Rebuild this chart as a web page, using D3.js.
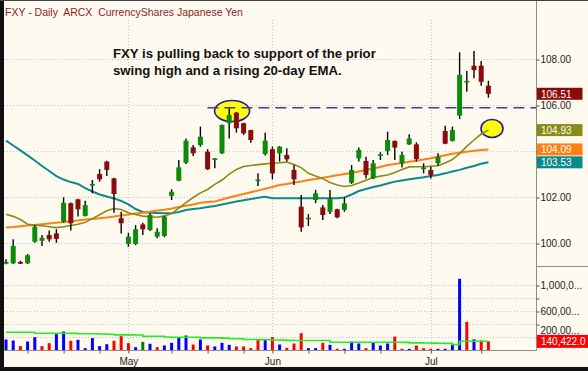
<!DOCTYPE html>
<html><head><meta charset="utf-8">
<script src="https://cdn.jsdelivr.net/npm/d3@7/dist/d3.min.js"></script>
<style>
html,body{margin:0;padding:0;background:#fff;}
svg{display:block;}
text{font-family:"Liberation Sans",Arial,sans-serif;}
</style></head><body>
<svg id="c" width="588" height="371"></svg>
<script>
// ---------- DATA ----------
const title = "FXY - Daily  ARCX  CurrencyShares Japanese Yen";
const noteLines = ["FXY is pulling back to support of the prior", "swing high and a rising 20-day EMA."];

const dates = [
 "2010-04-08","2010-04-09","2010-04-12","2010-04-13","2010-04-14","2010-04-15","2010-04-16","2010-04-19","2010-04-20","2010-04-21",
 "2010-04-22","2010-04-23","2010-04-26","2010-04-27","2010-04-28","2010-04-29","2010-04-30","2010-05-03","2010-05-04","2010-05-05",
 "2010-05-06","2010-05-07","2010-05-10","2010-05-11","2010-05-12","2010-05-13","2010-05-14","2010-05-17","2010-05-18","2010-05-19",
 "2010-05-20","2010-05-21","2010-05-24","2010-05-25","2010-05-26","2010-05-27","2010-05-28","2010-06-01","2010-06-02","2010-06-03",
 "2010-06-04","2010-06-07","2010-06-08","2010-06-09","2010-06-10","2010-06-11","2010-06-14","2010-06-15","2010-06-16","2010-06-17",
 "2010-06-18","2010-06-21","2010-06-22","2010-06-23","2010-06-24","2010-06-25","2010-06-28","2010-06-29","2010-06-30","2010-07-01",
 "2010-07-02","2010-07-06","2010-07-07","2010-07-08","2010-07-09","2010-07-12","2010-07-13","2010-07-14"];

const open = [99.12,99.14,99.20,99.14,100.08,100.12,100.37,100.44,100.95,101.75,
 101.92,101.20,102.53,103.02,103.56,102.83,101.10,99.98,99.98,100.83,
 100.59,100.30,100.33,102.07,102.73,103.51,104.18,104.28,103.99,103.63,
 103.92,105.23,105.69,105.23,104.93,102.74,103.89,104.10,103.92,103.85,
 103.20,101.60,101.06,101.89,101.57,101.38,101.49,101.46,102.64,103.70,
 103.59,102.83,103.82,104.02,104.46,103.49,104.31,104.31,103.24,103.20,
 103.49,104.89,104.46,105.56,107.01,107.73,107.73,106.86];
const high = [99.32,100.18,99.25,99.54,100.80,100.37,100.56,100.62,102.01,101.78,
 101.95,101.86,102.76,103.23,103.60,102.86,101.38,100.47,100.80,100.90,
 101.31,100.66,101.20,102.36,103.63,104.57,104.28,105.08,104.10,103.72,
 105.17,105.88,105.72,105.25,104.95,103.05,104.82,104.21,104.24,104.14,
 103.41,102.11,101.28,102.33,101.67,102.33,101.51,102.01,103.41,104.17,
 103.77,103.63,103.97,104.86,104.48,103.99,104.75,104.40,103.49,103.34,
 103.92,105.12,105.08,108.31,107.50,108.37,107.93,107.07];
const low = [99.10,99.11,99.11,99.11,100.03,99.89,100.08,100.03,100.90,100.56,
 101.17,101.17,102.18,102.69,102.93,101.34,100.44,99.86,99.93,100.37,
 100.54,100.23,100.27,101.89,102.71,103.46,103.80,104.21,103.20,103.27,
 103.89,104.57,104.82,104.72,104.38,102.50,103.83,102.79,103.56,103.56,
 102.54,100.51,100.76,101.75,101.02,101.28,101.10,101.38,102.59,103.56,
 102.83,102.80,103.63,103.85,103.63,103.30,104.28,103.56,103.05,102.83,
 103.38,104.31,104.43,105.41,106.60,107.18,106.86,106.34];
const close = [99.20,99.89,99.12,99.49,100.73,100.25,100.18,100.20,101.77,100.88,
 101.49,101.67,102.59,102.79,103.20,102.15,100.88,100.30,100.62,100.62,
 101.24,100.51,101.17,102.25,103.31,104.47,103.92,104.64,103.23,103.70,
 105.15,105.59,105.01,104.79,104.50,102.78,104.47,103.05,104.21,103.66,
 102.79,100.70,101.12,102.18,101.24,101.97,101.14,101.75,103.20,104.07,
 102.98,103.49,103.88,104.50,104.17,103.85,104.57,103.67,103.30,102.98,
 103.77,104.34,104.93,107.33,107.07,107.54,107.03,106.51];

// moving averages
const ema20 = [101.27,101.18,101.04,100.84,100.80,100.77,100.73,100.69,100.73,100.78,
 100.84,100.92,101.08,101.25,101.42,101.52,101.48,101.34,101.26,101.19,
 101.16,101.14,101.20,101.30,101.54,101.78,102.00,102.20,102.35,102.57,
 102.76,103.02,103.22,103.35,103.39,103.43,103.46,103.49,103.51,103.54,
 103.43,103.30,103.05,102.93,102.82,102.65,102.54,102.48,102.52,102.63,
 102.75,102.87,102.93,102.98,103.09,103.22,103.33,103.34,103.34,103.36,
 103.38,103.50,103.65,103.91,104.22,104.50,104.76,104.93];
const ema50 = [100.70,100.72,100.75,100.78,100.80,100.84,100.87,100.90,100.93,100.97,
 101.00,101.04,101.07,101.10,101.13,101.17,101.22,101.26,101.30,101.34,
 101.38,101.43,101.47,101.52,101.59,101.64,101.70,101.77,101.80,101.83,
 101.91,102.00,102.08,102.15,102.23,102.30,102.38,102.46,102.54,102.59,
 102.65,102.70,102.76,102.80,102.86,102.91,102.97,103.02,103.07,103.13,
 103.20,103.26,103.33,103.41,103.46,103.50,103.55,103.60,103.65,103.71,
 103.77,103.84,103.90,103.95,103.99,104.03,104.07,104.09];
const sma50 = [104.47,104.26,104.05,103.83,103.61,103.37,103.15,102.93,102.78,102.67,
 102.59,102.41,102.26,102.13,102.04,101.96,101.85,101.70,101.50,101.37,
 101.34,101.33,101.31,101.31,101.37,101.46,101.50,101.53,101.59,101.63,
 101.70,101.76,101.83,101.88,101.93,101.99,102.03,101.97,101.97,101.97,
 101.97,101.97,101.97,101.97,101.97,101.97,101.97,102.00,102.13,102.28,
 102.37,102.46,102.52,102.61,102.69,102.74,102.79,102.84,102.88,102.93,
 102.98,103.05,103.13,103.20,103.29,103.37,103.47,103.53];

const volume = [169000,154000,67000,138000,205000,67000,113000,251000,292000,149000,
 164000,36000,190000,67000,97000,149000,221000,113000,51000,133000,
 103000,51000,77000,118000,205000,231000,92000,169000,77000,62000,
 118000,87000,62000,62000,36000,169000,164000,205000,92000,41000,
 108000,266000,36000,36000,118000,87000,26000,26000,138000,108000,
 36000,118000,77000,108000,215000,26000,26000,77000,36000,26000,
 26000,26000,90000,1103000,440000,172000,155000,140422];
const volumeAvg = [281000,281000,281000,281000,266000,266000,266000,266000,266000,264000,
 257000,257000,257000,255000,250000,241000,241000,241000,238000,220000,
 220000,220000,208000,205000,205000,205000,203000,195000,195000,195000,
 190000,180000,180000,169000,169000,167000,165000,162000,160000,156000,
 154000,154000,154000,154000,154000,128000,128000,128000,128000,128000,
 128000,128000,128000,128000,128000,125000,118000,118000,116000,114000,
 112000,110000,92000,143000,143000,143000,143000,143000];

const priceTicks = [100,102,104,106,108];
const priceTickLabels = {100:"100.00", 102:"102.00", 106:"106.00", 108:"108.00"}; // 104.00 sits under the value boxes
const volumeTicks = [200000,400000,600000,800000,1000000];
const volumeTickLabels = {1000000:"1,000,0...", 600000:"600,00...", 200000:"200,00..."};
const weekTickDates = ["2010-04-13","2010-04-20","2010-04-27","2010-05-11","2010-05-18","2010-05-25","2010-06-08","2010-06-15","2010-06-22","2010-07-13"];
const monthTickDates = ["2010-05-03","2010-06-01","2010-07-01"];
const monthLabels = ["May","Jun","Jul"];
const supportLevel = 105.9;
const supportStartDate = "2010-05-17";
const highlights = [{date:"2010-05-21", offset:0.4, price:105.76, rx:17.5, ry:10.5},
                    {date:"2010-07-14", offset:0.5, price:105.0, rx:11, ry:9}];

// ---------- CHART ----------
const W = 588, H = 371;
const L = 4, R = 536.5, priceBottom = 266, volBottom = 350.5;
const svg = d3.select("#c");
const idx = d => dates.indexOf(d);

const x = d3.scaleLinear().domain([0, dates.length - 1]).range([6, 488.4]);
const y = d3.scaleLinear().domain([100, 108]).range([243.5, 59.5]);
const yv = d3.scaleLinear().domain([0, 1000000]).range([volBottom, 285.5]);

svg.append("rect").attr("width", W).attr("height", H).attr("fill", "#fffaf0");

const defs = svg.append("defs");
defs.append("clipPath").attr("id", "pclip").append("rect")
  .attr("x", L).attr("y", 0).attr("width", R - L).attr("height", priceBottom);

// grid
const grid = svg.append("g").attr("stroke", "#c4c4c4").attr("stroke-width", 1).attr("stroke-dasharray", "1,2");
grid.selectAll(".hp").data(priceTicks).join("line")
  .attr("x1", L).attr("x2", R).attr("y1", d => y(d)).attr("y2", d => y(d));
grid.selectAll(".hv").data(volumeTicks).join("line")
  .attr("x1", L).attr("x2", R).attr("y1", d => yv(d)).attr("y2", d => yv(d));
grid.selectAll(".vm").data(monthTickDates).join("line")
  .attr("x1", d => Math.round(x(idx(d))) + 0.5).attr("x2", d => Math.round(x(idx(d))) + 0.5)
  .attr("y1", 20).attr("y2", volBottom);

const pg = svg.append("g").attr("clip-path", "url(#pclip)");

// highlight ellipse 1
const h0 = highlights[0];
pg.append("ellipse").attr("cx", x(idx(h0.date) + h0.offset)).attr("cy", y(h0.price))
  .attr("rx", h0.rx).attr("ry", h0.ry).attr("fill", "#ffff00").attr("stroke", "#1c1c9c").attr("stroke-width", 1.6);

// support line
pg.append("line").attr("x1", x(idx(supportStartDate)) + 7).attr("x2", R)
  .attr("y1", y(supportLevel)).attr("y2", y(supportLevel))
  .attr("stroke", "#3a3aa8").attr("stroke-width", 1.4).attr("stroke-dasharray", "11,6");

const h1 = highlights[1];
pg.append("ellipse").attr("cx", x(idx(h1.date) + h1.offset)).attr("cy", y(h1.price))
  .attr("rx", h1.rx).attr("ry", h1.ry).attr("fill", "#ffff00").attr("stroke", "#1c1c9c").attr("stroke-width", 1.6);

// moving averages
const line = d3.line().x((d, i) => x(i)).y(d => y(d));
pg.append("path").datum(sma50).attr("d", line).attr("fill", "none").attr("stroke", "#0a8a8a").attr("stroke-width", 2);
pg.append("path").datum(ema50).attr("d", line).attr("fill", "none").attr("stroke", "#ff7f10").attr("stroke-width", 2);
pg.append("path").datum(ema20).attr("d", line).attr("fill", "none").attr("stroke", "#8a8a14").attr("stroke-width", 1.6);

// candles
const candles = pg.append("g").selectAll("g").data(dates).join("g");
candles.append("line")
  .attr("x1", (d, i) => x(i)).attr("x2", (d, i) => x(i))
  .attr("y1", (d, i) => y(high[i])).attr("y2", (d, i) => y(low[i]))
  .attr("stroke", "#000").attr("stroke-width", 1.4);
candles.append("rect")
  .attr("x", (d, i) => x(i) - 2.5).attr("width", 5)
  .attr("y", (d, i) => y(Math.max(open[i], close[i])))
  .attr("height", (d, i) => Math.max(1.6, Math.abs(y(open[i]) - y(close[i]))))
  .attr("fill", (d, i) => close[i] >= open[i] ? "#0a8c0a" : "#8b0a0a");

// volume
const volColor = i => i === 0 ? "#0000ff" : (close[i] > close[i - 1] ? "#0000ff" : close[i] < close[i - 1] ? "#ff0000" : "#008000");
svg.append("g").selectAll("rect").data(volume).join("rect")
  .attr("x", (d, i) => x(i) - 1.5).attr("width", 3)
  .attr("y", d => yv(d)).attr("height", d => volBottom - yv(d))
  .attr("fill", (d, i) => volColor(i));
svg.append("path").datum(volumeAvg)
  .attr("d", d3.line().x((d, i) => x(i)).y(d => yv(d)).curve(d3.curveStepAfter))
  .attr("fill", "none").attr("stroke", "#22ee22").attr("stroke-width", 1.6);

// separators
svg.append("line").attr("x1", R).attr("x2", R).attr("y1", 0).attr("y2", volBottom).attr("stroke", "#8c8c8c");
svg.append("line").attr("x1", R).attr("x2", W).attr("y1", priceBottom + 0.5).attr("y2", priceBottom + 0.5).attr("stroke", "#8c8c8c");
svg.append("line").attr("x1", L).attr("x2", R).attr("y1", volBottom).attr("y2", volBottom).attr("stroke", "#8c8c8c");

// axes
function styleAxis(g) {
  g.select(".domain").remove();
  g.selectAll(".tick line").attr("stroke", "#555");
  g.selectAll(".tick text").attr("fill", "#222").attr("font-size", 10)
    .attr("font-family", '"Liberation Sans",Arial,sans-serif');
}
svg.append("g").attr("transform", `translate(${R},0)`)
  .call(d3.axisRight(y).tickValues(priceTicks).tickSize(3).tickPadding(1).tickFormat(d => priceTickLabels[d] || ""))
  .call(styleAxis);
const vAxis = svg.append("g").attr("transform", `translate(${R},0)`)
  .call(d3.axisRight(yv).tickValues(volumeTicks).tickSize(3).tickPadding(1).tickFormat(d => volumeTickLabels[d] || ""))
  .call(styleAxis);
// lowest volume label sits just above the last-volume box
vAxis.selectAll(".tick text").filter(d => d === volumeTicks[0]).attr("dy", "-0.4em");
const monthIdx = monthTickDates.map(idx);
svg.append("g").attr("transform", `translate(0,${volBottom})`)
  .call(d3.axisBottom(x).tickValues(weekTickDates.map(idx).concat(monthIdx)).tickSize(3).tickPadding(4)
    .tickFormat(i => { const k = monthIdx.indexOf(i); return k >= 0 ? monthLabels[k] : ""; }))
  .call(styleAxis);

// last-value labels
const last = dates.length - 1;
const valueLabels = [
  {v: close[last], color: "#8b0a0a"},
  {v: ema20[last], color: "#8a8a14"},
  {v: ema50[last], color: "#ff7f10"},
  {v: sma50[last], color: "#0a8a8a"}
];
const vl = svg.append("g").selectAll("g").data(valueLabels).join("g")
  .attr("transform", d => `translate(${R + 0.5},${y(d.v) - 6})`);
vl.append("rect").attr("width", 45.5).attr("height", 12).attr("fill", d => d.color);
vl.append("text").attr("x", 4).attr("y", 10).attr("fill", "#fff").attr("font-size", 10).text(d => d.v.toFixed(2));

const vtop = Math.min(yv(volume[last]) - 6.5, volBottom - 13);
const vg = svg.append("g").attr("transform", `translate(${R + 0.5},${vtop})`);
vg.append("rect").attr("width", W - R).attr("height", 13).attr("fill", "#ff0000");
vg.append("text").attr("x", 4).attr("y", 10.5).attr("fill", "#fff").attr("font-size", 10)
  .text(d3.format(",.1f")(volume[last]));

// title & note
svg.append("text").attr("x", 5).attr("y", 16).attr("font-size", 10.5).attr("fill", "#8b1c1c")
  .attr("xml:space", "preserve").style("white-space", "pre").text(title);
svg.append("g").selectAll("text").data(noteLines).join("text")
  .attr("x", 113).attr("y", (d, i) => 58 + i * 17)
  .attr("font-size", 13.2).attr("font-weight", "bold").attr("fill", "#111").text(d => d);

// borders
svg.append("rect").attr("x", 0).attr("y", 0).attr("width", 4).attr("height", H).attr("fill", "#111");
svg.append("rect").attr("x", 0).attr("y", H - 4).attr("width", W).attr("height", 4).attr("fill", "#111");
svg.append("rect").attr("x", 0).attr("y", 0).attr("width", W).attr("height", 1).attr("fill", "#444");
</script>
</body></html>
